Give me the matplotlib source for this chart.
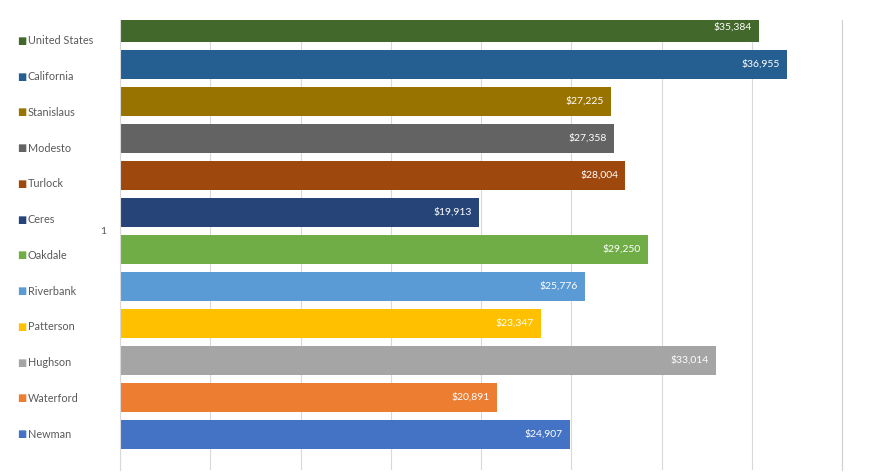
import matplotlib
matplotlib.use('Agg')
import matplotlib.pyplot as plt

# per capita income by place
places = ['United States', 'California', 'Stanislaus', 'Modesto', 'Turlock', 'Ceres',
          'Oakdale', 'Riverbank', 'Patterson', 'Hughson', 'Waterford', 'Newman']
income = [35384, 36955, 27225, 27358, 28004, 19913,
          29250, 25776, 23347, 33014, 20891, 24907]
colors = ['#43682B', '#255E91', '#997300', '#636363', '#9E480E', '#264478',
          '#70AD47', '#5B9BD5', '#FFC000', '#A5A5A5', '#ED7D31', '#4472C4']

plt.rcParams['font.family'] = ['Lato', 'DejaVu Sans']

W, H = 874, 474
fig = plt.figure(figsize=(W / 100, H / 100), dpi=100)
ax = fig.add_axes([120 / W, 1 - 470 / H, (842 - 120) / W, (470 - 20) / H])

pos = list(range(len(places)))
ax.barh(pos, income, height=0.8, color=colors, zorder=2)

for y, v in zip(pos, income):
    ax.text(v - 400, y, f"${v:,}", ha='right', va='center', color='white', fontsize=7.5, zorder=3)

ax.set_xlim(0, 40000)
ax.set_ylim(len(places) - 1 + 0.96, -0.2)
ax.set_xticks(range(0, 40001, 5000))
ax.tick_params(axis='x', length=0, labelbottom=False)
ax.set_yticks([(len(places) - 1) / 2])
ax.set_yticklabels(['1'])
ax.tick_params(axis='y', length=0, pad=10, labelsize=7.5, labelcolor='#595959')
ax.grid(axis='x', color='#D9D9D9', linewidth=0.8, zorder=0)
for s in ['top', 'bottom']:
    ax.spines[s].set_visible(False)
ax.spines['left'].set_color('#D9D9D9')
ax.spines['right'].set_color('#D0D0D0')

# legend down the left side, evenly spaced
top_px, bottom_px = 41, 434
step = (bottom_px - top_px) / (len(places) - 1)
for i, (name, c) in enumerate(zip(places, colors)):
    yf = 1 - (top_px + i * step) / H
    fig.text(17 / W, yf, '\u25A0', ha='left', va='center',
             color=c, fontsize=7, family=['DejaVu Sans'])
    fig.text(28 / W, yf, name, ha='left', va='center',
             color='#595959', fontsize=7.8)

fig.savefig('out.png', dpi=100)
